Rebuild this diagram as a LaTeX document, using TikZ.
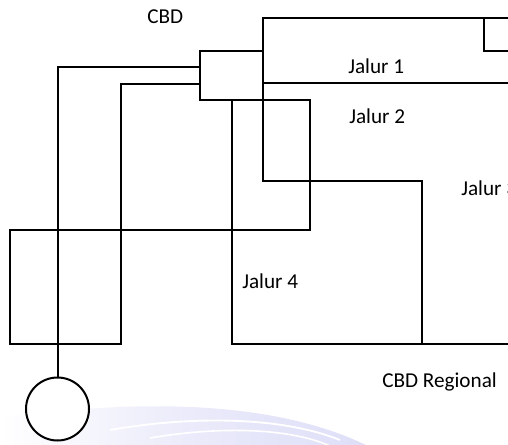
\documentclass[tikz,border=0pt]{standalone}
\usepackage{fontspec}
\setmainfont{Carlito}
\definecolor{haze}{RGB}{222,222,248}
\begin{document}
\begin{tikzpicture}[x=0.75pt,y=-0.75pt,
  route/.style={line width=1.5pt,line join=miter},
  lbl/.style={anchor=base west,inner sep=0pt,font=\fontsize{15.9pt}{19pt}\selectfont}]
\useasboundingbox (0,0) rectangle (508,444);
\clip (0,0) rectangle (508,444);

% faint background swoosh
\shade[left color=white,right color=haze,middle color=haze!60!white]
  (0,418) .. controls (130,400) and (270,398) .. (368,446) -- (0,446) -- cycle;
\draw[white,line width=1.4pt] (110,430) .. controls (190,416) and (280,416) .. (340,440);
\draw[white,line width=1.2pt] (150,438) .. controls (220,426) and (290,428) .. (330,446);

% free ends at the right margin
\coordinate (eTop) at (508,18);
\coordinate (eStep) at (508,51);
\coordinate (eJ1) at (508,83);
\coordinate (eReg) at (508,344);

% central business district block and regional terminal
\node[draw,line width=1.5pt,inner sep=0pt,outer sep=0pt,
      minimum width=47.25pt,minimum height=36.75pt] (cbd) at (231.5,75.5) {};
\node[draw,circle,line width=1.5pt,inner sep=0pt,outer sep=0pt,
      minimum size=47.25pt,fill=white] (term) at (57.5,409) {};

% routes
\draw[route] (cbd.west |- 0,67) -| (term.north);
\draw[route] (cbd.west |- 0,84) -| (121,344) -- (10,344) -- (10,230) -- (310,230) |- (cbd.south east);
\draw[route] (cbd.south -| 232,0) -- (232,344) -- (eReg);
\draw[route] (cbd.north east) |- (eTop);
\draw[route] (484,18) |- (eStep);
\draw[route] (cbd.east |- eJ1) -- (eJ1);
\draw[route] (cbd.south east) -- (263,181) -- (422,181) -- (422,344);

% labels
\node[lbl] (tCBD) at (147,23) {CBD};
\node[lbl] (tJ1) at (348,73) {Jalur 1};
\node[lbl] (tJ2) at (349,123) {Jalur 2};
\node[lbl] (tJ3) at (461,195) {Jalur 3};
\node[lbl] (tJ4) at (242,288) {Jalur 4};
\node[lbl] (tReg) at (382,387) {CBD Regional};
\end{tikzpicture}
\end{document}
